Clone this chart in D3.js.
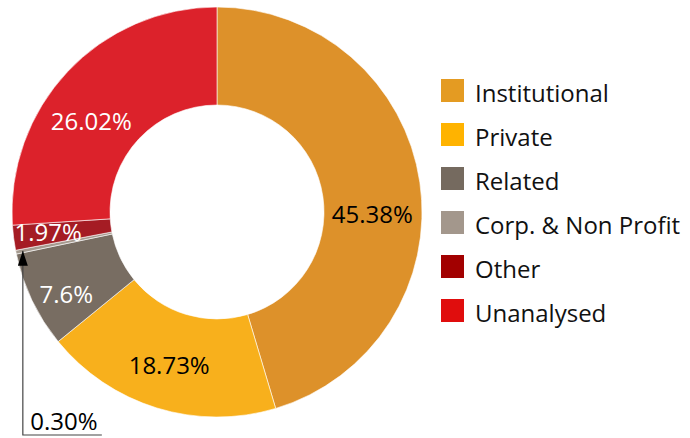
<!DOCTYPE html>
<html>
<head>
<meta charset="utf-8">
<script src="https://cdn.jsdelivr.net/npm/d3@7"></script>
<style>
  body { margin: 0; background: #fff; }
  svg { display: block; font-family: "Open Sans", sans-serif; }
</style>
</head>
<body>
<svg id="chart" width="690" height="438"></svg>
<script>
// data, clockwise from 12 o'clock
const categories = ['Institutional', 'Private', 'Related', 'Corp. & Non Profit', 'Other', 'Unanalysed'];
const shares = [45.38, 18.73, 7.6, 0.30, 1.97, 26.02];
const labels = ['45.38%', '18.73%', '7.6%', '0.30%', '1.97%', '26.02%'];

const sliceColors = ['#DD912A', '#F8B01C', '#786D62', '#A59A8F', '#A51C24', '#DC222B'];
const legendColors = ['#E49B22', '#FFB300', '#756A5F', '#A3978C', '#A20000', '#E00D0D'];
const labelColors = ['#000', '#000', '#fff', '#000', '#fff', '#fff'];
// nudges to match where the original put the labels (relative to arc centroid)
const labelNudge = [[1, 24], [-2, 3], [-10, 14], [0, 0], [-14, 0], [-12, 15]];

const width = 690, height = 438;
const cx = 217, cy = 212;
const outerR = 205, innerR = 107;

const svg = d3.select('#chart');

const pie = d3.pie().sort(null).value(d => d)(shares);
const arc = d3.arc().innerRadius(innerR).outerRadius(outerR);

const g = svg.append('g').attr('transform', `translate(${cx},${cy})`);

g.selectAll('path.slice').data(pie).join('path')
    .attr('class', 'slice')
    .attr('d', arc)
    .attr('fill', (d, i) => sliceColors[i])
    .attr('stroke', '#fff')
    .attr('stroke-width', 0.6);

// in-slice labels (skip the tiny one)
g.selectAll('text.lbl').data(pie.filter((d, i) => i !== 3)).join('text')
    .attr('class', 'lbl')
    .attr('transform', d => {
        const i = d.index;
        const c = arc.centroid(d);
        return `translate(${c[0] + labelNudge[i][0]},${c[1] + labelNudge[i][1]})`;
    })
    .attr('text-anchor', 'middle')
    .attr('dominant-baseline', 'central')
    .attr('font-size', 24)
    .attr('fill', d => labelColors[d.index])
    .text(d => labels[d.index]);

// leader for the 0.30% slice
const tip = d3.arc().innerRadius(198).outerRadius(198).centroid(pie[3]);
const tipX = cx + tip[0], tipY = cy + tip[1];
const baseY = 435, textCx = 64;

svg.append('defs').append('marker')
    .attr('id', 'arrow')
    .attr('viewBox', '0 0 10 10')
    .attr('refX', 10).attr('refY', 5)
    .attr('markerWidth', 15).attr('markerHeight', 10)
    .attr('markerUnits', 'userSpaceOnUse')
    .attr('orient', 'auto')
    .attr('preserveAspectRatio', 'none')
  .append('path')
    .attr('d', 'M0,0 L10,5 L0,10 Z')
    .attr('fill', '#000');

svg.append('path')
    .attr('d', `M${tipX + 79},${baseY} L${tipX},${baseY} L${tipX},${tipY}`)
    .attr('fill', 'none')
    .attr('stroke', '#444')
    .attr('stroke-width', 1.2)
    .attr('marker-end', 'url(#arrow)');

svg.append('text')
    .attr('x', textCx)
    .attr('y', baseY - 5)
    .attr('text-anchor', 'middle')
    .attr('font-size', 24)
    .attr('fill', '#000')
    .text(labels[3]);

// legend
const legend = svg.append('g').attr('transform', 'translate(441,79)');
const row = legend.selectAll('g').data(categories).join('g')
    .attr('transform', (d, i) => `translate(0,${i * 44})`);
row.append('rect')
    .attr('width', 23).attr('height', 23)
    .attr('fill', (d, i) => legendColors[i]);
row.append('text')
    .attr('x', 34)
    .attr('y', 13)
    .attr('dominant-baseline', 'central')
    .attr('font-size', 24)
    .attr('fill', '#111')
    .text(d => d);
</script>
</body>
</html>
